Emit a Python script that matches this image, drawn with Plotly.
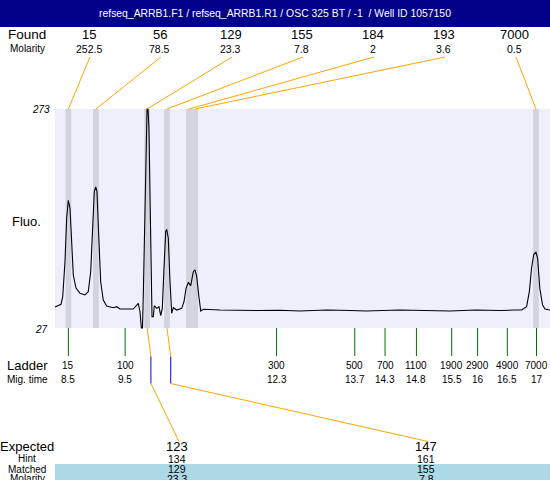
import plotly.graph_objects as go

# ---------------- data ----------------
title_text = "refseq_ARRB1.F1 / refseq_ARRB1.R1 / OSC 325 BT / -1  / Well ID 1057150"

found_sizes = ["15", "56", "129", "155", "184", "193", "7000"]
found_molarity = ["252.5", "78.5", "23.3", "7.8", "2", "3.6", "0.5"]
found_time = [8.50, 9.00, 9.93, 10.29, 10.69, 10.80, 16.99]

ladder_sizes = ["15", "100", "300", "500", "700", "1100", "1900", "2900", "4900", "7000"]
ladder_mig_labels = ["8.5", "9.5", "12.3", "13.7", "14.3", "14.8", "15.5", "16", "16.5", "17"]
ladder_time = [8.50, 9.53, 12.28, 13.70, 14.25, 14.82, 15.46, 15.93, 16.47, 17.00]

expected_sizes = ["123", "147"]
hint_sizes = ["134", "161"]
matched_sizes = ["129", "155"]
matched_molarity = ["23.3", "7.8"]
matched_found_index = [2, 3]

fluo_min, fluo_max = 27, 273

trace_time = [8.257, 8.311, 8.366, 8.397, 8.438, 8.469, 8.498, 8.529, 8.560, 8.589,
              8.638, 8.710, 8.801, 8.861, 8.905, 8.941, 8.970, 8.996, 9.019, 9.050,
              9.086, 9.133, 9.195, 9.315, 9.377, 9.437, 9.678, 9.769, 9.800, 9.825,
              9.845, 9.860, 9.891, 9.915, 9.928, 9.945, 9.963, 9.982, 10.000, 10.018,
              10.042, 10.060, 10.103, 10.145, 10.176, 10.205, 10.236, 10.267, 10.285, 10.314,
              10.345, 10.376, 10.405, 10.467, 10.558, 10.599, 10.636, 10.678, 10.721, 10.768,
              10.799, 10.830, 10.866, 10.903, 10.950, 11.253, 11.900, 12.343, 12.700, 13.200,
              13.620, 13.900, 14.520, 14.900, 15.430, 15.900, 16.340, 16.600, 16.730, 16.820,
              16.870, 16.910, 16.950, 16.990, 17.020, 17.060, 17.110, 17.155, 17.245]
trace_fluo = [50.6, 51.7, 53.6, 62.2, 101.5, 150.6, 170.4, 161.8, 116.9, 86.5,
              71.9, 66.0, 64.1, 67.8, 90.2, 139.0, 180.1, 185.4, 180.1, 131.5,
              79.0, 58.5, 51.7, 49.8, 50.9, 48.3, 48.3, 54.7, 45.3, 27.0,
              27.0, 64.1, 176.4, 258.7, 273.0, 273.0, 251.3, 176.4, 82.8, 39.7,
              39.7, 52.0, 49.1, 50.9, 40.8, 49.1, 94.1, 135.2, 137.9, 127.8,
              79.0, 43.5, 49.8, 47.2, 49.1, 56.5, 71.6, 78.3, 74.5, 90.2,
              92.2, 84.6, 64.1, 46.1, 48.0, 47.2, 46.6, 46.9, 46.1, 47.2,
              46.6, 46.1, 47.2, 46.6, 46.1, 47.2, 46.6, 47.2, 47.2, 50.9,
              67.8, 94.1, 109.8, 112.0, 105.3, 71.6, 52.8, 48.3, 47.2]

# ---------------- layout helpers ----------------
W, H = 550, 480
X_LEFT_T, X_RIGHT_T = 7.258, 17.245      # axis range across full width
Y_TOP_F, Y_BOT_F = 395.44, -143.74       # axis range across full height
PLOT_LEFT_PX = 55


def px2t(px):
    return X_LEFT_T + px / W * (X_RIGHT_T - X_LEFT_T)


def py2f(py):
    return Y_TOP_F - py / H * (Y_TOP_F - Y_BOT_F)


def px(x):
    return x / W


def py(y):
    return 1 - y / H


FONT = "Liberation Sans, Arial, sans-serif"
ORANGE = "#FFA500"
BAND = "#D3D3DF"
BG = "#EFEFFC"

fig = go.Figure()
shapes = []
annotations = []


def label(x, y, text, size, color="black", ref="paper"):
    annotations.append(dict(x=x, y=y, xref=ref if ref == "paper" else "x",
                            yref=ref if ref == "paper" else "y", text=text,
                            showarrow=False, xanchor="center", yanchor="middle",
                            borderpad=0,
                            font=dict(family=FONT, size=size, color=color)))


# plot background
shapes.append(dict(type="rect", xref="x", yref="y", x0=px2t(PLOT_LEFT_PX), x1=X_RIGHT_T,
                   y0=fluo_min, y1=fluo_max, fillcolor=BG, line_width=0, layer="below"))
# found bands
for t in found_time:
    shapes.append(dict(type="rect", xref="x", yref="y", x0=t - 0.052, x1=t + 0.052,
                       y0=fluo_min, y1=fluo_max, fillcolor=BAND, line_width=0, layer="below"))

# electropherogram
fig.add_trace(go.Scatter(x=trace_time, y=trace_fluo, mode="lines",
                         line=dict(color="black", width=1.1), hoverinfo="skip",
                         showlegend=False))

# title bar
shapes.append(dict(type="rect", xref="paper", yref="paper", x0=0, x1=1, y0=py(27), y1=1,
                   fillcolor="#000088", line_width=0))
label(0.5, py(13.5), title_text, 10.4, "white")

# found header
label(px(27), py(35), "Found", 13.5)
label(px(27), py(49), "Molarity", 10)
for i, (s, m, t) in enumerate(zip(found_sizes, found_molarity, found_time)):
    cx = 88.5 + 71 * i
    label(px(cx), py(35), s, 13)
    label(px(cx), py(49), m, 10.5)
    shapes.append(dict(type="line", xref="x", yref="y", x0=px2t(cx + 1.5), y0=py2f(57),
                       x1=t, y1=fluo_max, line=dict(color=ORANGE, width=1)))

# y labels
label(px(41), py(110), "<i>273</i>", 10)
label(px(41), py(329), "<i>27</i>", 10)
label(px(26.5), py(221), "Fluo.", 13)

# ladder
label(px(27), py(365.5), "Ladder", 13)
label(px(27), py(379.5), "Mig. time", 10)
for s, lab, t in zip(ladder_sizes, ladder_mig_labels, ladder_time):
    shapes.append(dict(type="line", xref="x", yref="y", x0=t, x1=t, y0=fluo_min, y1=py2f(356),
                       line=dict(color="#007000", width=1)))
    label(t, py2f(365.5), s, 10, ref="data")
    label(t, py2f(379.5), lab, 10, ref="data")

# expected block
shapes.append(dict(type="rect", xref="paper", yref="paper", x0=px(PLOT_LEFT_PX), x1=1,
                   y0=0, y1=py(464), fillcolor="#ADD8E6", line_width=0, layer="below"))
for txt, yy, sz in [("Expected", 446.5, 13), ("Hint", 458.5, 10),
                    ("Matched", 469, 10), ("Molarity", 478.5, 10)]:
    label(px(27), py(yy), txt, sz)
expected_px = [177, 426]
for e, h, m, mm, fi, cx in zip(expected_sizes, hint_sizes, matched_sizes, matched_molarity,
                                 matched_found_index, expected_px):
    t = found_time[fi]
    tb = t + 0.068
    shapes.append(dict(type="line", xref="x", yref="y", x0=t, y0=fluo_min, x1=tb, y1=py2f(356.5),
                       line=dict(color=ORANGE, width=1)))
    shapes.append(dict(type="line", xref="x", yref="y", x0=tb, y0=py2f(356.5), x1=tb, y1=py2f(383.5),
                       line=dict(color="#0000FF", width=1)))
    shapes.append(dict(type="line", xref="x", yref="y", x0=tb, y0=py2f(383.5), x1=px2t(cx + 2),
                       y1=py2f(441.5), line=dict(color=ORANGE, width=1)))
    for txt, yy, sz in [(e, 446.5, 13), (h, 458.5, 10.5), (m, 469, 10.5), (mm, 478.5, 10.5)]:
        label(px(cx), py(yy), txt, sz)

fig.update_layout(
    width=W, height=H,
    margin=dict(l=0, r=0, t=0, b=0, pad=0),
    paper_bgcolor="white", plot_bgcolor="white",
    xaxis=dict(range=[X_LEFT_T, X_RIGHT_T], domain=[0, 1], visible=False, fixedrange=True),
    yaxis=dict(range=[Y_BOT_F, Y_TOP_F], domain=[0, 1], visible=False, fixedrange=True),
    shapes=shapes, annotations=annotations, showlegend=False,
)

fig.write_html("out.html", config={"displayModeBar": False},
               post_script="document.body.style.margin='0';document.body.style.overflow='hidden';")
